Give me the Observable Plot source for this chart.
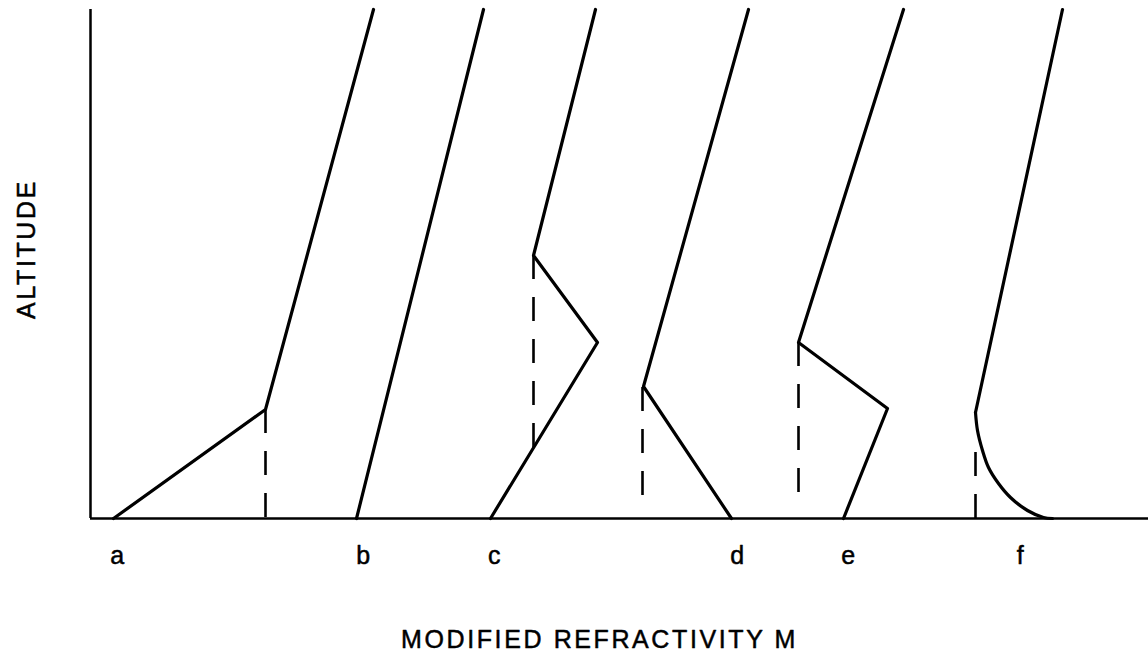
<!DOCTYPE html>
<html><head><meta charset="utf-8">
<script src="https://cdn.jsdelivr.net/npm/d3@7"></script>
<script src="https://cdn.jsdelivr.net/npm/@observablehq/plot@0.6"></script>
<style>body{margin:0;background:#fff} svg{display:block}</style>
</head><body><div id="chart"></div>
<script>
// Profile letters and where they sit along the M axis
const profiles = ["a", "b", "c", "d", "e", "f"];
const labelM = [118, 364, 495, 738, 849, 1021];

// Solid profile polylines (M, altitude)
const aM = [113, 265, 373],            aAlt = [0, 109, 509];
const bM = [356, 483],                 bAlt = [0, 509];
const cM = [490, 597, 533, 595],       cAlt = [0, 176, 263, 509];
const dM = [731, 643, 748],            dAlt = [0, 132, 509];
const eM = [843, 887, 798, 903],       eAlt = [0, 110, 176, 509];
const fLineM = [975, 1062],            fLineAlt = [106, 509];
// Curved lower part of profile f
const fCurveM = [975, 977, 982, 988, 998, 1010, 1027, 1043, 1052];
const fCurveAlt = [106, 88, 68, 51, 35, 21, 8, 1, 0];

// Dashed verticals
const dashM = [265, 533, 642, 798, 975];
const dashLow = [0, 70, 21, 21, 0];
const dashHigh = [109, 263, 131, 176, 66];

const solid = [];
function addLine(id, M, alt) { M.forEach((m, i) => solid.push({id, M: m, alt: alt[i]})); }
addLine("a", aM, aAlt);
addLine("b", bM, bAlt);
addLine("c", cM, cAlt);
addLine("d", dM, dAlt);
addLine("e", eM, eAlt);
addLine("f", fLineM, fLineAlt);
const fCurve = fCurveM.map((m, i) => ({M: m, alt: fCurveAlt[i]}));
const dashes = dashM.map((m, i) => ({M: m, low: dashLow[i], high: dashHigh[i]}));
const labels = profiles.map((p, i) => ({label: p, M: labelM[i]}));

const font = "'Liberation Sans', Arial, Helvetica, sans-serif";
const txt = {fontSize: 25, lineAnchor: "middle", fill: "#000", stroke: "#000", strokeWidth: 0.5};
const chart = Plot.plot({
  width: 1148, height: 656,
  marginLeft: 90, marginRight: 0, marginTop: 9, marginBottom: 138,
  x: {domain: [90, 1148], axis: null},
  y: {domain: [0, 509], axis: null},
  style: {fontFamily: font, background: "#fff", color: "#000", letterSpacing: "2.6px"},
  marks: [
    Plot.ruleY([0], {stroke: "#000", strokeWidth: 2.5}),
    Plot.ruleX([90], {y1: 0, y2: 509, stroke: "#000", strokeWidth: 2.5}),
    Plot.line(solid, {x: "M", y: "alt", z: "id", stroke: "#000", strokeWidth: 3.2, strokeLinejoin: "round"}),
    Plot.line(fCurve, {x: "M", y: "alt", curve: "catmull-rom", stroke: "#000", strokeWidth: 3.2}),
    Plot.ruleX(dashes, {x: "M", y1: "high", y2: "low", stroke: "#000", strokeWidth: 2.6, strokeDasharray: "24,18"}),
    Plot.text(labels, {x: "M", y: 0, text: "label", dy: 37, ...txt}),
    Plot.text(["MODIFIED REFRACTIVITY M"], {frameAnchor: "bottom", textAnchor: "middle", dx: -20, dy: 121, ...txt}),
    Plot.text(["ALTITUDE"], {frameAnchor: "left", textAnchor: "middle", rotate: -90, dx: -64, dy: -15, ...txt})
  ]
});
document.getElementById("chart").appendChild(chart);
</script>
</body></html>
